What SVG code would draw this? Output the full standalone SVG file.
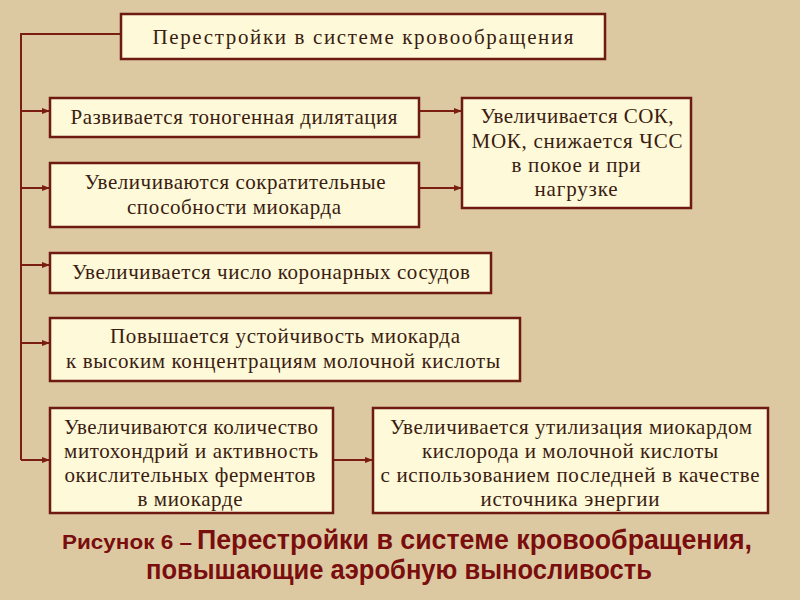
<svg xmlns="http://www.w3.org/2000/svg" width="800" height="600" viewBox="0 0 800 600">
<style>
.bx{fill:#fdf9d9;stroke:#6e1a10;stroke-width:2.5}
.t{font-family:"Liberation Serif","Times New Roman",serif;font-size:21px;fill:#3b1c10;text-anchor:middle}
.c{stroke:#7a1e12;stroke-width:2;fill:none}
.cap{font-family:"Liberation Sans",Arial,sans-serif;font-weight:bold;fill:#7a0d0d}
</style>
<defs>
<marker id="ah" markerWidth="8" markerHeight="8" refX="7" refY="4" orient="auto" markerUnits="userSpaceOnUse">
<path d="M0,1 L8,4 L0,7 z" fill="#7a1e12"/>
</marker>
</defs>
<rect width="800" height="600" fill="#dcc9a1"/>
<g id="connectors">
<path class="c" d="M121,34 H21 V460"/>
<path class="c" d="M21,111 H49" marker-end="url(#ah)"/>
<path class="c" d="M21,188 H49" marker-end="url(#ah)"/>
<path class="c" d="M21,265 H49" marker-end="url(#ah)"/>
<path class="c" d="M21,343 H49" marker-end="url(#ah)"/>
<path class="c" d="M21,460 H49" marker-end="url(#ah)"/>
<path class="c" d="M419,111 H461" marker-end="url(#ah)"/>
<path class="c" d="M419,188 H461" marker-end="url(#ah)"/>
<path class="c" d="M333,460 H372" marker-end="url(#ah)"/>
</g>
<g id="n0"><rect class="bx" x="121" y="14" width="484" height="45"/>
<text class="t" x="363" y="44" font-size="21" textLength="421">Перестройки в системе кровообращения</text></g>
<g id="n1"><rect class="bx" x="50" y="98" width="369" height="39"/>
<text class="t" x="234" y="124" textLength="327">Развивается тоногенная дилятация</text></g>
<g id="n2"><rect class="bx" x="50" y="163" width="369" height="64"/>
<text class="t" x="235" y="189" textLength="301">Увеличиваются сократительные</text>
<text class="t" x="234" y="214" textLength="214">способности миокарда</text></g>
<g id="n3"><rect class="bx" x="462" y="98" width="229" height="110"/>
<text class="t" x="577" y="123" textLength="193">Увеличивается СОК,</text>
<text class="t" x="577" y="148" textLength="211">МОК, снижается ЧСС</text>
<text class="t" x="576" y="172" textLength="129">в покое и при</text>
<text class="t" x="576" y="196" textLength="83">нагрузке</text></g>
<g id="n4"><rect class="bx" x="50" y="253" width="441" height="40"/>
<text class="t" x="271" y="279" textLength="398">Увеличивается число коронарных сосудов</text></g>
<g id="n5"><rect class="bx" x="50" y="318" width="470" height="63"/>
<text class="t" x="285" y="343" textLength="350">Повышается устойчивость миокарда</text>
<text class="t" x="283" y="368" textLength="434">к высоким концентрациям молочной кислоты</text></g>
<g id="n6"><rect class="bx" x="50" y="408" width="283" height="105"/>
<text class="t" x="191" y="434" textLength="254">Увеличиваются количество</text>
<text class="t" x="191" y="458" textLength="254">митохондрий и активность</text>
<text class="t" x="190" y="482" textLength="251">окислительных ферментов</text>
<text class="t" x="190" y="506" textLength="105">в миокарде</text></g>
<g id="n7"><rect class="bx" x="373" y="408" width="395" height="105"/>
<text class="t" x="571" y="434" textLength="362">Увеличивается утилизация миокардом</text>
<text class="t" x="570" y="458" textLength="296">кислорода и молочной кислоты</text>
<text class="t" x="570" y="482" textLength="379">с использованием последней в качестве</text>
<text class="t" x="570" y="506" textLength="179">источника энергии</text></g>
<g id="caption">
<text class="cap" x="62" y="549" font-size="20" textLength="130" lengthAdjust="spacingAndGlyphs">Рисунок 6 –</text>
<text class="cap" x="197" y="549" font-size="27" textLength="555" lengthAdjust="spacingAndGlyphs">Перестройки в системе кровообращения,</text>
<text class="cap" x="146" y="579" font-size="27" textLength="506" lengthAdjust="spacingAndGlyphs">повышающие аэробную выносливость</text>
</g>
</svg>
